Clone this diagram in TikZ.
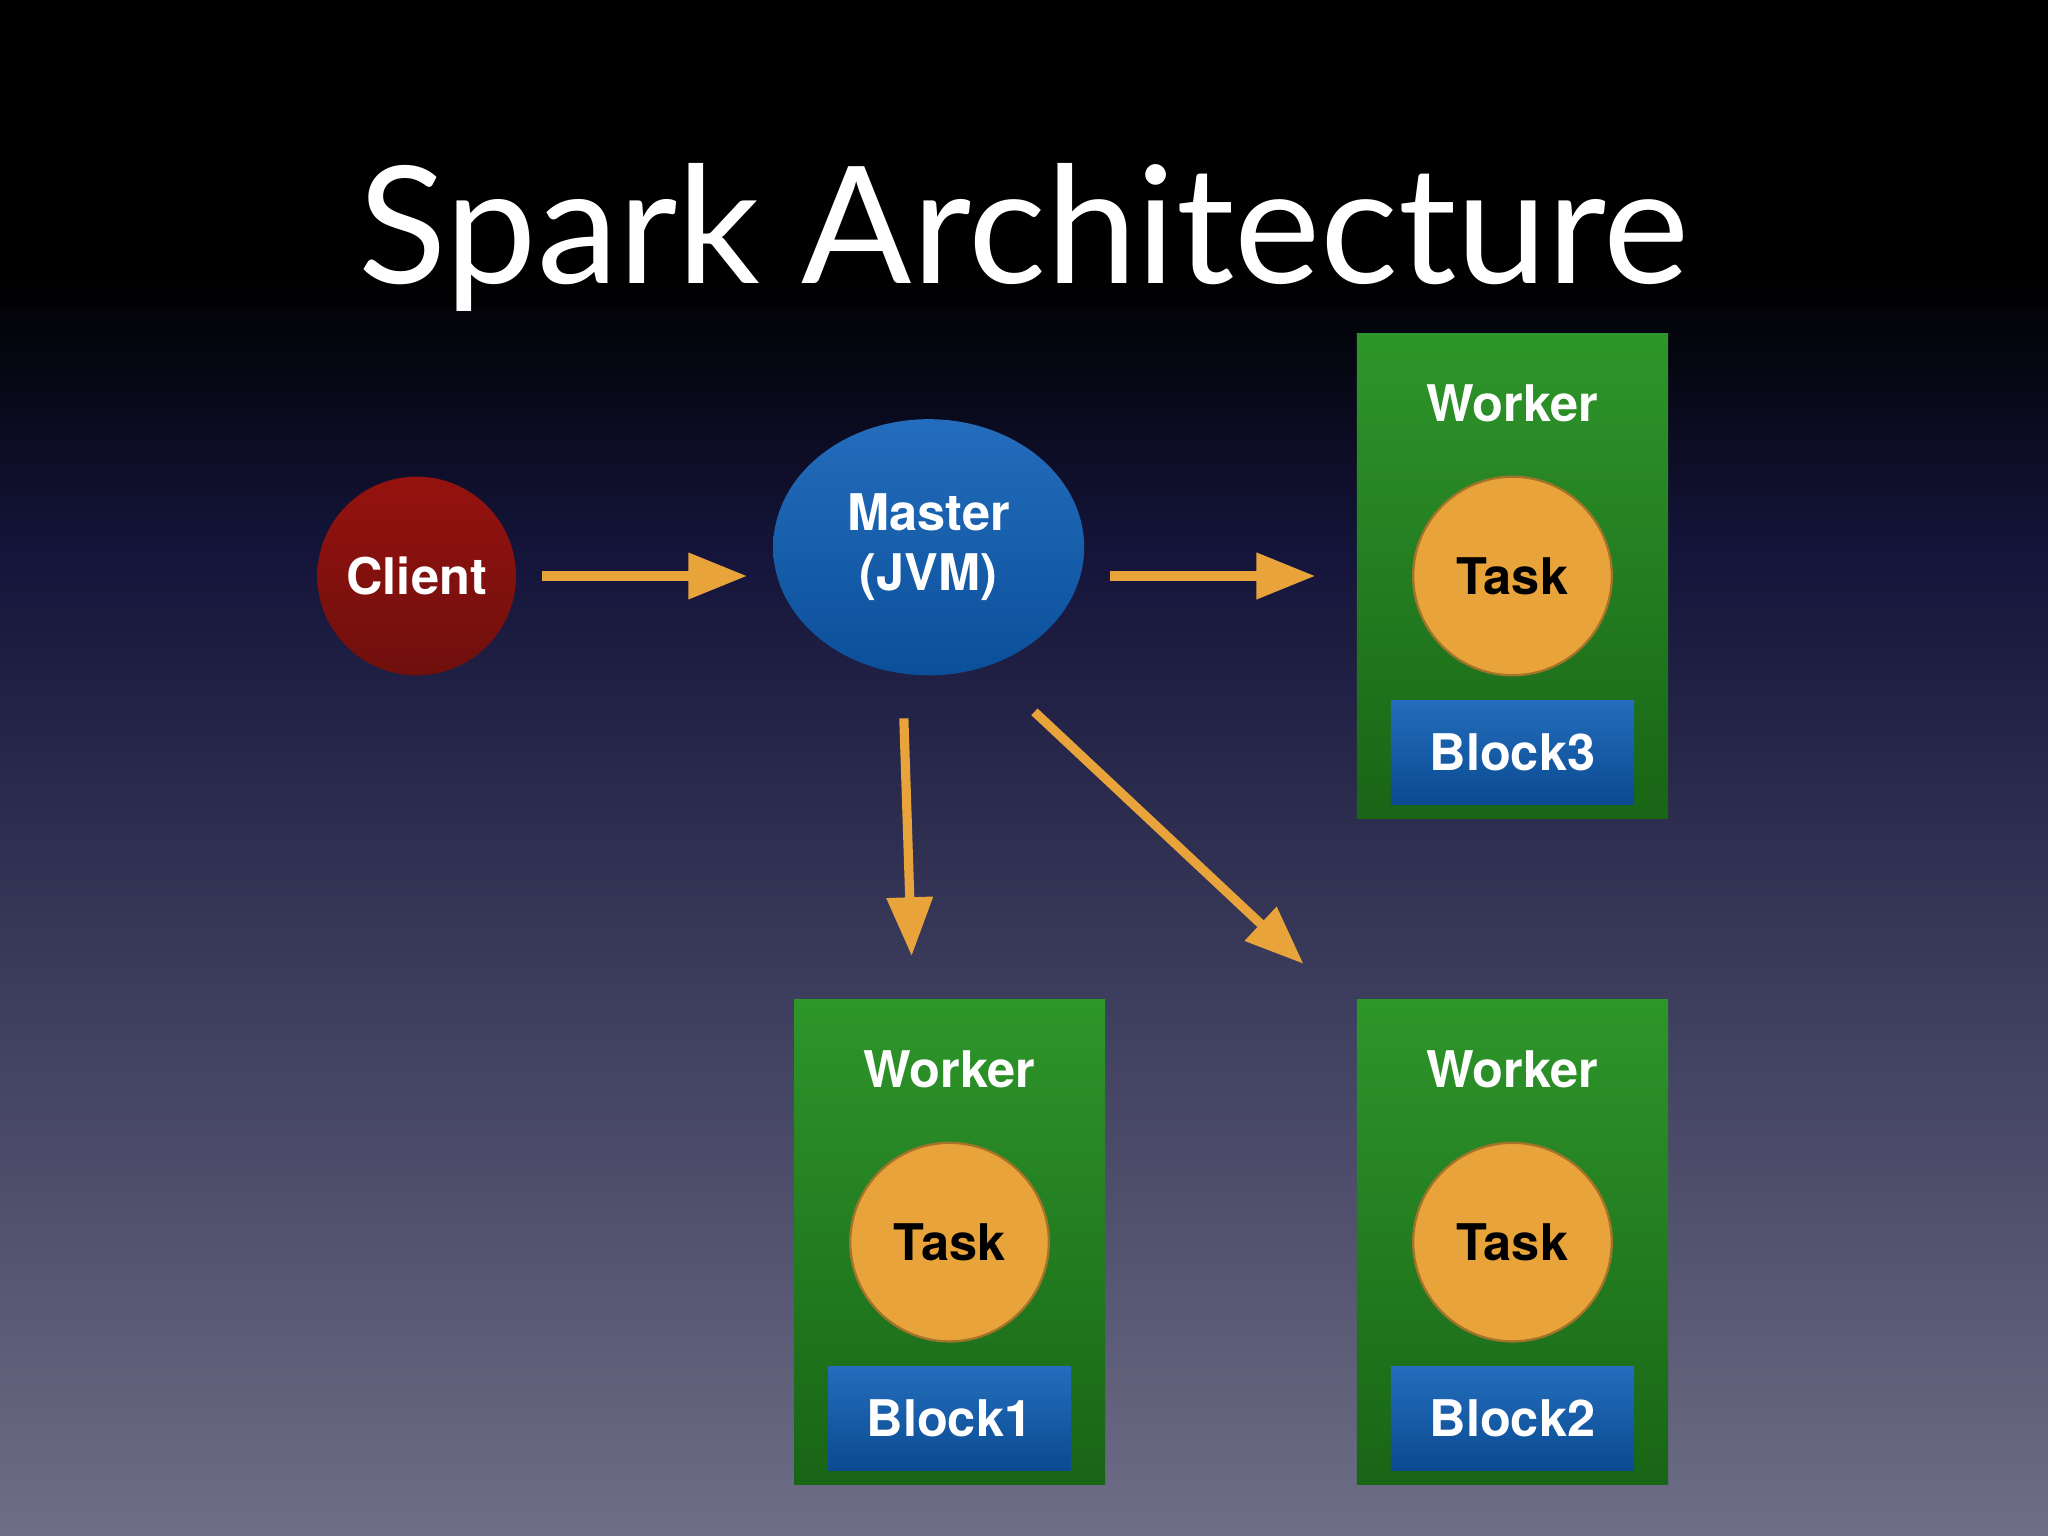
\documentclass[tikz,border=0pt]{standalone}
\usepackage{fontspec}
\setmainfont{TeX Gyre Heros}
\newfontfamily\titlefont{Lato}
\usetikzlibrary{shapes.geometric,arrows.meta,positioning}
\definecolor{arrowc}{HTML}{E8A33A}
\definecolor{workerc}{HTML}{23901F}
\definecolor{blockc}{HTML}{0C5DB5}
\definecolor{clientc}{HTML}{8A1410}
\definecolor{taskc}{HTML}{E8A43A}
\definecolor{bgmid}{HTML}{14143A}
\definecolor{bgbot}{HTML}{6E6E87}
\begin{document}
\begin{tikzpicture}[x=0.01cm,y=-0.01cm,
  lbl/.style={font=\bfseries\fontsize{10.5}{12}\selectfont,text=white},
  worker/.style={draw=none,top color=workerc!95!white,bottom color=workerc!70!black,minimum width=2.38cm,minimum height=3.71cm,inner sep=0},
  task/.style={circle,draw=taskc!70!black,line width=0.5pt,fill=taskc,minimum size=1.52cm,inner sep=0,font=\bfseries\fontsize{11}{13}\selectfont,text=black},
  block/.style={top color=blockc!90!white,bottom color=blockc!80!black,minimum width=1.86cm,minimum height=0.8cm,inner sep=0,lbl,font=\bfseries\fontsize{11}{13}\selectfont},
  flow/.style={draw=arrowc,line width=2pt,-{Triangle[length=0.45cm,width=0.34cm]}}]
\shade[top color=black,bottom color=bgmid,middle color=black] (0,0) rectangle (1568,420);
\shade[top color=bgmid,bottom color=bgbot] (0,419) rectangle (1568,1176);
\useasboundingbox (0,0) rectangle (1568,1176);
\node[text=white,font=\titlefont\fontsize{35.5}{40}\selectfont] (title) at (784,182) {Spark Architecture};
\node[circle,minimum size=1.52cm,inner sep=0,top color=clientc!90!red,bottom color=clientc!80!black,lbl,font=\bfseries\fontsize{11}{13}\selectfont] (client) at (319,441) {Client};
\node[ellipse,minimum width=2.38cm,minimum height=1.96cm,inner sep=0,top color=blockc!90!white,bottom color=blockc!85!black,lbl,font=\bfseries\fontsize{11}{13}\selectfont,align=center] (master) at (711,419) {Master\\(JVM)};
% workers
\foreach \n/\x/\y/\b in {w3/1158/441/Block3, w1/727/951/Block1, w2/1158/951/Block2}{
  \node[worker] (\n) at (\x,\y) {};
  \node[lbl,font=\bfseries\fontsize{11}{13}\selectfont] (\n l) at (\x,\y-132) {Worker};
  \node[task] (\n t) at (\x,\y) {Task};
  \node[block] (\n b) at (\x,\y+135) {\b};
}
\coordinate (a1s) at (415,441); \coordinate (a1e) at (572,441);
\coordinate (a2s) at (850,441); \coordinate (a2e) at (1007,441);
\coordinate (a3s) at (692,550); \coordinate (a3e) at (698,732);
\coordinate (a4s) at (792,545); \coordinate (a4e) at (998,738);
\draw[flow] (a1s) -- (a1e);
\draw[flow] (a2s) -- (a2e);
\draw[flow] (a3s) -- (a3e);
\draw[flow] (a4s) -- (a4e);
\end{tikzpicture}
\end{document}
